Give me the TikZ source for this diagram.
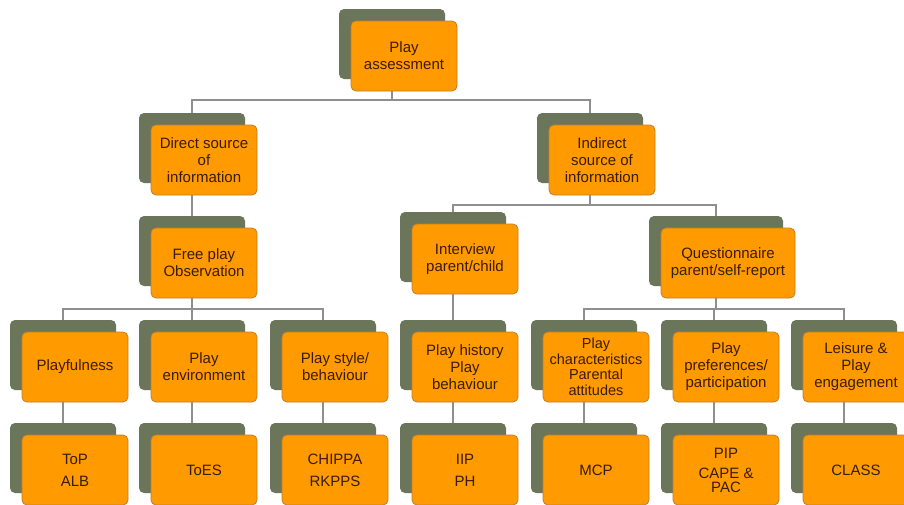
\documentclass[tikz,border=0pt]{standalone}
\usepackage{fontspec}
\setmainfont{Liberation Sans}
\definecolor{shad}{HTML}{6B7559}
\definecolor{org}{HTML}{FF9A00}
\definecolor{orgline}{HTML}{C0802A}
\definecolor{txt}{HTML}{3A1C00}
\definecolor{connc}{HTML}{8F8F8F}
\tikzset{
  backbox/.style={fill=shad, rounded corners=5pt, minimum height=70pt, inner sep=0pt},
  frontbox/.style={fill=org, draw=orgline, line width=0.8pt, rounded corners=5pt,
    minimum height=70pt, inner sep=0pt, align=center, text=txt,
    font=\fontsize{15}{17}\selectfont},
  leaftext/.style={font=\fontsize{15}{22}\selectfont},
  conn/.style={draw=connc, line width=1.1pt}
}
% name, cx, top, width, text, extra style
\newcommand\tbox[6]{%
  \node[backbox, minimum width=#4] (b#1) at (#2, #3+35) {};
  \node[frontbox, minimum width=#4, #6] (#1) at (#2+12, #3+47) {#5};
}
\begin{document}
\begin{tikzpicture}[x=1pt, y=-1pt]
\useasboundingbox (0,0) rectangle (904,504);
\clip (0,0) rectangle (904,504);
\fill[white] (0,0) rectangle (904,504);

\coordinate (bus1) at (0,100);
\coordinate (bus2) at (0,205);
\coordinate (bus3) at (0,309);

\tbox{pa}{392}{9}{106}{Play\\assessment}{}
\tbox{direct}{192}{113}{106}{Direct source\\of\\information}{}
\tbox{indirect}{590}{113}{106}{Indirect\\source of\\information}{}
\tbox{free}{192}{216}{106}{Free play\\Observation}{}
\tbox{interview}{453}{212}{106}{Interview\\parent/child}{}
\tbox{quest}{716}{216}{134}{Questionnaire\\parent/self-report}{}

\tbox{pa1}{63}{320}{106}{Playfulness}{}
\tbox{pa2}{192}{320}{106}{Play\\environment}{}
\tbox{pa3}{323}{320}{106}{Play style/\\behaviour}{}
\tbox{pa4}{453}{320}{106}{Play history\\Play\\behaviour}{}
\tbox{pa5}{584}{320}{106}{Play\\characteristics\\Parental\\attitudes}{font=\fontsize{14.5}{15.5}\selectfont}
\tbox{pa6}{714}{320}{106}{Play\\preferences/\\participation}{}
\tbox{pa7}{844}{320}{106}{Leisure \&\\Play\\engagement}{}

\tbox{le1}{63}{423}{106}{ToP\\ALB}{leaftext}
\tbox{le2}{192}{423}{106}{ToES}{leaftext}
\tbox{le3}{323}{423}{106}{CHIPPA\\RKPPS}{leaftext}
\tbox{le4}{453}{423}{106}{IIP\\PH}{leaftext}
\tbox{le5}{584}{423}{106}{MCP}{leaftext}
\tbox{le6}{714}{423}{106}{PIP\\[2pt]CAPE \&\\[-4pt]PAC}{font=\fontsize{15}{18}\selectfont}
\tbox{le7}{844}{423}{106}{CLASS}{leaftext}

% connectors
\draw[conn] (bpa |- pa.south) -- (bpa |- bus1) -| (bdirect.north);
\draw[conn] (bpa |- bus1) -| (bindirect.north);
\draw[conn] (bdirect |- direct.south) -- (bfree.north);
\draw[conn] (bindirect |- indirect.south) -- (bindirect |- bus2) -| (binterview.north);
\draw[conn] (bindirect |- bus2) -| (bquest.north);
\draw[conn] (bfree |- free.south) -- (bfree |- bus3) -| (bpa1.north);
\draw[conn] (bfree |- bus3) -| (bpa3.north);
\draw[conn] (bfree |- bus3) -- (bpa2.north);
\draw[conn] (binterview |- interview.south) -- (bpa4.north);
\draw[conn] (bquest |- quest.south) -- (bquest |- bus3) -| (bpa5.north);
\draw[conn] (bquest |- bus3) -| (bpa7.north);
\draw[conn] (bpa6 |- bus3) -- (bpa6.north);
\foreach \i in {1,...,7}{
  \draw[conn] (bpa\i |- pa\i.south) -- (ble\i.north);
}
\end{tikzpicture}
\end{document}
